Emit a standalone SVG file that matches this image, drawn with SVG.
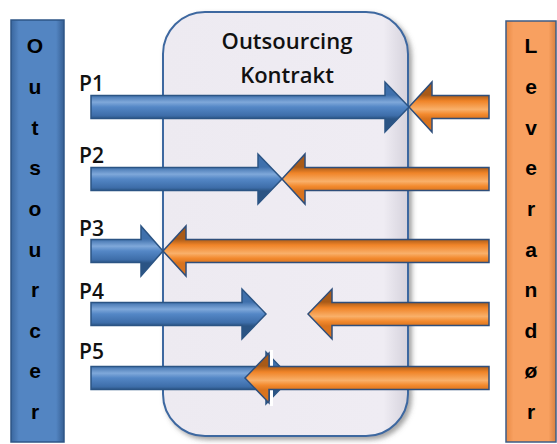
<svg xmlns="http://www.w3.org/2000/svg" width="557" height="444" viewBox="0 0 557 444">
<defs>
<linearGradient id="gBar" x1="0" y1="0" x2="1" y2="0">
<stop offset="0" stop-color="#3A679F"/>
<stop offset="0.15" stop-color="#5385C2"/>
<stop offset="0.85" stop-color="#5385C2"/>
<stop offset="1" stop-color="#365F93"/>
</linearGradient>
<linearGradient id="oBar" x1="0" y1="0" x2="1" y2="0">
<stop offset="0" stop-color="#E98A45"/>
<stop offset="0.15" stop-color="#F8A060"/>
<stop offset="0.85" stop-color="#F8A060"/>
<stop offset="1" stop-color="#D9803E"/>
</linearGradient>
<linearGradient id="boxG" x1="0" y1="0" x2="1" y2="0">
<stop offset="0" stop-color="#EDEAF1"/>
<stop offset="0.9" stop-color="#EFECF3"/>
<stop offset="1" stop-color="#D5D2DC"/>
</linearGradient>
<linearGradient id="bArr" gradientUnits="userSpaceOnUse" x1="0" y1="-12" x2="0" y2="12">
<stop offset="0" stop-color="#3F70AC"/>
<stop offset="0.3" stop-color="#7FA8DA"/>
<stop offset="0.5" stop-color="#5487C6"/>
<stop offset="0.85" stop-color="#3E6EAA"/>
<stop offset="1" stop-color="#2B5484"/>
</linearGradient>
<linearGradient id="oArr" gradientUnits="userSpaceOnUse" x1="0" y1="-12" x2="0" y2="12">
<stop offset="0" stop-color="#A85A18"/>
<stop offset="0.25" stop-color="#F08428"/>
<stop offset="0.6" stop-color="#F9B06A"/>
<stop offset="0.8" stop-color="#F38A2E"/>
<stop offset="1" stop-color="#D9731E"/>
</linearGradient>
<filter id="sh" x="-10%" y="-10%" width="130%" height="130%">
<feDropShadow dx="3" dy="3" stdDeviation="2.5" flood-color="#555" flood-opacity="0.55"/>
</filter>
<style>
.bar-b{fill:url(#gBar);stroke:#2E5687;stroke-width:1.5}
.bar-o{fill:url(#oBar);stroke:#3E5C86;stroke-width:1.5}
.vl{font-family:"Liberation Sans",Arial,sans-serif;font-weight:bold;font-size:21px;fill:#000;text-anchor:middle}
.pl{font-family:"Open Sans","Liberation Sans",sans-serif;font-weight:600;font-size:21px;fill:#111}
.tl{font-family:"Open Sans","Liberation Sans",sans-serif;font-weight:600;font-size:22px;fill:#111;text-anchor:middle}
.ba{fill:url(#bArr);stroke:#2B5484;stroke-width:1.5;stroke-linejoin:miter}
.oa{fill:url(#oArr);stroke:#2F4E7A;stroke-width:1.5;stroke-linejoin:miter}
</style>
</defs>
<rect width="557" height="444" fill="#FFFFFF"/>

<g id="contract">
<rect x="163" y="12" width="245" height="424" rx="42" ry="42" fill="url(#boxG)" stroke="#3E68A0" stroke-width="2" filter="url(#sh)"/>
<text class="tl" x="287" y="49">Outsourcing</text>
<text class="tl" x="287" y="83">Kontrakt</text>
</g>

<g id="outsourcer">
<rect class="bar-b" x="11" y="20" width="53" height="422"/>
<text class="vl" x="35" y="53">O</text>
<text class="vl" x="35" y="94">u</text>
<text class="vl" x="35" y="135">t</text>
<text class="vl" x="35" y="175">s</text>
<text class="vl" x="35" y="216">o</text>
<text class="vl" x="35" y="257">u</text>
<text class="vl" x="35" y="297">r</text>
<text class="vl" x="35" y="338">c</text>
<text class="vl" x="35" y="378">e</text>
<text class="vl" x="35" y="419">r</text>
</g>

<g id="leverandor">
<rect class="bar-o" x="506" y="21" width="50" height="421"/>
<text class="vl" x="531" y="53">L</text>
<text class="vl" x="531" y="94">e</text>
<text class="vl" x="531" y="135">v</text>
<text class="vl" x="531" y="175">e</text>
<text class="vl" x="531" y="216">r</text>
<text class="vl" x="531" y="257">a</text>
<text class="vl" x="531" y="297">n</text>
<text class="vl" x="531" y="338">d</text>
<text class="vl" x="531" y="378">ø</text>
<text class="vl" x="531" y="419">r</text>
</g>

<g id="labels">
<text class="pl" x="79" y="91">P1</text>
<text class="pl" x="79" y="163">P2</text>
<text class="pl" x="79" y="236">P3</text>
<text class="pl" x="79" y="299">P4</text>
<text class="pl" x="79" y="359">P5</text>
</g>

<g id="connectors">
<g id="p1" transform="translate(0,107)">
<path class="ba" d="M91,-11.5 H385 V-25 L409,0 L385,25 V11.5 H91 Z"/>
<path class="oa" d="M409,0 L432,-25 V-11.5 H489 V11.5 H432 V25 Z"/>
</g>
<g id="p2" transform="translate(0,179)">
<path class="ba" d="M91,-11.5 H258 V-25 L282,0 L258,25 V11.5 H91 Z"/>
<path class="oa" d="M282,0 L305,-25 V-11.5 H489 V11.5 H305 V25 Z"/>
</g>
<g id="p3" transform="translate(0,251)">
<path class="ba" d="M91,-11.5 H141 V-25 L163,0 L141,25 V11.5 H91 Z"/>
<path class="oa" d="M163,0 L186,-25 V-11.5 H489 V11.5 H186 V25 Z"/>
</g>
<g id="p4" transform="translate(0,314)">
<path class="ba" d="M91,-11.5 H242 V-25 L266,0 L242,25 V11.5 H91 Z"/>
<path class="oa" d="M308,0 L332,-25 V-11.5 H489 V11.5 H332 V25 Z"/>
</g>
<g id="p5" transform="translate(0,378)">
<path class="ba" d="M91,-11.5 H266 V-26 L291,0 L266,26 V11.5 H91 Z"/>
<line x1="271.5" y1="-28" x2="271.5" y2="28" stroke="#FFFFFF" stroke-width="3"/>
<path class="oa" d="M245,0 L269,-25 V-11.5 H489 V11.5 H269 V25 Z"/>
</g>
</g>
</svg>
